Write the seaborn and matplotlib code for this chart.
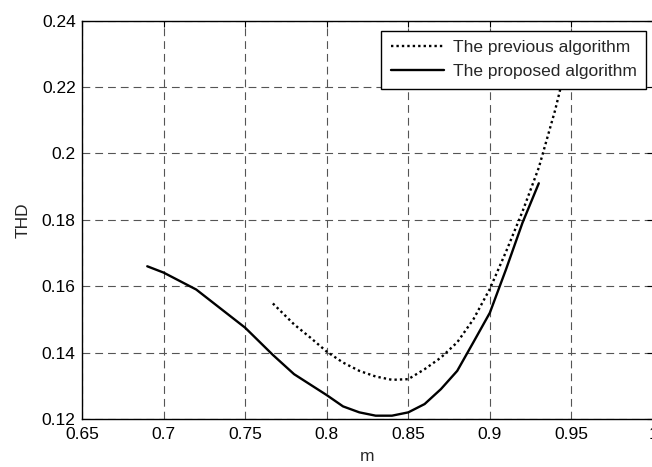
import matplotlib
matplotlib.use("Agg")
import matplotlib.pyplot as plt
import seaborn as sns
import pandas as pd

# ---- data ----
m_prev = [0.767, 0.78, 0.79, 0.80, 0.81, 0.82, 0.83, 0.84, 0.85, 0.86, 0.87,
          0.88, 0.89, 0.90, 0.91, 0.92, 0.93, 0.94, 0.95]
thd_prev = [0.1548, 0.1485, 0.1445, 0.1403, 0.1370, 0.1345, 0.1328, 0.1318,
            0.1320, 0.1350, 0.1385, 0.1431, 0.1501, 0.1592, 0.1705, 0.1825,
            0.1957, 0.2130, 0.2330]

m_prop = [0.69, 0.70, 0.72, 0.75, 0.767, 0.78, 0.80, 0.81, 0.82, 0.83, 0.84,
          0.85, 0.86, 0.87, 0.88, 0.89, 0.90, 0.91, 0.92, 0.93]
thd_prop = [0.1660, 0.1641, 0.1590, 0.1475, 0.1393, 0.1335, 0.1272, 0.1238,
            0.1220, 0.1210, 0.1210, 0.1220, 0.1245, 0.1290, 0.1345, 0.1432,
            0.1520, 0.1652, 0.1791, 0.1910]

label_prev = "The previous algorithm"
label_prop = "The proposed algorithm"

x_ticks = [0.65, 0.7, 0.75, 0.8, 0.85, 0.9, 0.95, 1.0]
x_tick_labels = ["0.65", "0.7", "0.75", "0.8", "0.85", "0.9", "0.95", "1"]
y_ticks = [0.12, 0.14, 0.16, 0.18, 0.2, 0.22, 0.24]
y_tick_labels = ["0.12", "0.14", "0.16", "0.18", "0.2", "0.22", "0.24"]

sns.set_style("white")
plt.rcParams['font.family'] = ['Liberation Sans', 'DejaVu Sans']
FS = 12.5

fig = plt.figure(figsize=(6.52, 4.67), dpi=100)
W, H = 652, 467
left, right, top, bottom = 82, 653, 20.6, 419
ax = fig.add_axes([left / W, (H - bottom) / H, (right - left) / W, (bottom - top) / H])

df_prev = pd.DataFrame({"m": m_prev, "THD": thd_prev})
df_prop = pd.DataFrame({"m": m_prop, "THD": thd_prop})

sns.lineplot(data=df_prev, x="m", y="THD", ax=ax, color="black", lw=1.7,
             linestyle=(0, (1, 1.3)), label=label_prev)
sns.lineplot(data=df_prop, x="m", y="THD", ax=ax, color="black", lw=1.7,
             linestyle="-", label=label_prop)

ax.set_xlim(0.65, 1.0)
ax.set_ylim(0.12, 0.24)
ax.set_xticks(x_ticks)
ax.set_xticklabels(x_tick_labels, fontsize=FS)
ax.set_yticks(y_ticks)
ax.set_yticklabels(y_tick_labels, fontsize=FS)
ax.tick_params(direction="in", length=4, width=0.8, top=True, right=True,
               colors="black", pad=6)
ax.tick_params(axis="y", pad=4.5)

ax.grid(True, color="#555555", lw=0.8, linestyle=(0, (7, 4.5)))
ax.set_axisbelow(True)
for s in ax.spines.values():
    s.set_color("black")
    s.set_linewidth(1.0)

ax.set_xlabel("m", fontsize=FS, labelpad=5)
ax.set_ylabel("THD", fontsize=FS, labelpad=8)

leg = ax.legend(loc="upper right", bbox_to_anchor=(646 / W, (H - 30.7) / H),
                bbox_transform=fig.transFigure, borderaxespad=0,
                fontsize=FS, frameon=True, fancybox=False, framealpha=1,
                edgecolor="black", handlelength=3.08, handletextpad=0.48,
                borderpad=0.55, labelspacing=0.5)
leg.get_frame().set_linewidth(1.0)

fig.savefig("out.png", dpi=100)
